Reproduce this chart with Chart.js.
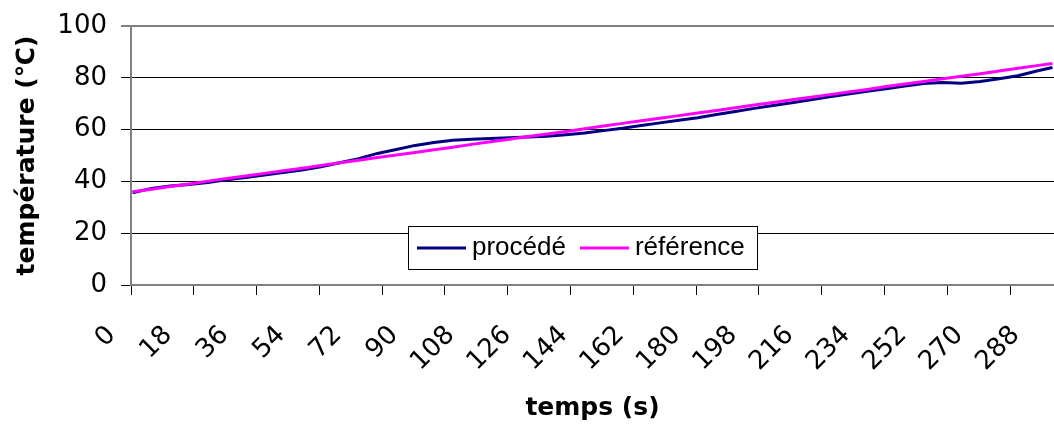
<!DOCTYPE html>
<html><head><meta charset="utf-8">
<script src="https://cdn.jsdelivr.net/npm/chart.js@4.4.1/dist/chart.umd.min.js"></script>
<style>html,body{margin:0;padding:0;background:#fff;overflow:hidden;}</style>
</head><body>
<canvas id="c" width="1054" height="428"></canvas>
<script>
// time (s)
const times = [0,6,12,18,24,30,36,42,48,54,60,66,72,78,84,90,96,102,108,114,120,126,132,138,144,150,156,162,168,174,180,186,192,198,204,210,216,222,228,234,240,246,252,258,264,270,276,282,288,293];
// procédé temperature (°C)
const procede = [35.6,37.3,38.2,38.8,39.6,40.6,41.5,42.5,43.4,44.4,45.6,47.2,48.8,50.8,52.3,53.9,55.0,55.9,56.3,56.6,56.9,57.1,57.4,58.0,58.7,59.6,60.5,61.6,62.6,63.6,64.6,65.8,67.0,68.2,69.3,70.4,71.5,72.7,73.7,74.8,75.8,76.8,77.8,78.2,77.9,78.6,79.6,80.8,82.6,84.0];
// référence temperature (°C)
const reference = [36.0,37.0,38.0,39.0,40.1,41.1,42.1,43.1,44.1,45.1,46.1,47.2,48.2,49.2,50.2,51.2,52.2,53.2,54.3,55.3,56.3,57.3,58.3,59.3,60.3,61.4,62.4,63.4,64.4,65.4,66.4,67.4,68.4,69.5,70.5,71.5,72.5,73.5,74.5,75.5,76.6,77.6,78.6,79.6,80.6,81.6,82.6,83.7,84.7,85.5];
const seriesNames = ['procédé','référence'];
// x axis: 294 one-second categories, labels every 18, tick marks every 20
const xRange = [-0.5, 293.5];
const xTickLabels = [0,18,36,54,72,90,108,126,144,162,180,198,216,234,252,270,288];
const xTickMarks = [-0.5,19.5,39.5,59.5,79.5,99.5,119.5,139.5,159.5,179.5,199.5,219.5,239.5,259.5,279.5];
const yTicks = [0,20,40,60,80,100];

const tickFont = {family:'"DejaVu Sans", sans-serif', size:26};
const titleFont = {family:'"DejaVu Sans", sans-serif', size:25, weight:'bold'};

const boxLegend = {
  id:'boxLegend',
  afterDraw(chart){
    const {ctx, chartArea:a} = chart;
    const x0 = a.left + 277, y0 = a.top + 200, w = 349, h = 43;
    ctx.save();
    ctx.fillStyle = '#fff'; ctx.fillRect(x0, y0, w, h);
    ctx.strokeStyle = '#000'; ctx.lineWidth = 1; ctx.strokeRect(x0 + 0.5, y0 + 0.5, w, h);
    ctx.font = '26px "Liberation Sans", Arial, sans-serif';
    ctx.textBaseline = 'middle'; ctx.textAlign = 'left';
    let x = x0 + 9; const cy = y0 + h / 2 + 0.5;
    chart.data.datasets.forEach(ds => {
      ctx.strokeStyle = ds.borderColor; ctx.lineWidth = 3;
      ctx.beginPath(); ctx.moveTo(x, cy); ctx.lineTo(x + 49, cy); ctx.stroke();
      ctx.fillStyle = '#000'; ctx.fillText(ds.label, x + 55, cy);
      x += 55 + ctx.measureText(ds.label).width + 14;
    });
    ctx.restore();
  }
};

new Chart(document.getElementById('c'), {
  type:'line',
  data:{
    datasets:[
      {label:seriesNames[0], data:times.map((t,i)=>({x:t,y:procede[i]})), borderColor:'#000080', borderWidth:3, pointRadius:0, tension:0, xAxisID:'x', yAxisID:'y', order:2},
      {label:seriesNames[1], data:times.map((t,i)=>({x:t,y:reference[i]})), borderColor:'#FF00FF', borderWidth:3, pointRadius:0, tension:0, xAxisID:'x', yAxisID:'y', order:1}
    ]
  },
  options:{
    responsive:false, animation:false, devicePixelRatio:1,
    layout:{padding:{left:6, top:26, right:0, bottom:0}},
    plugins:{legend:{display:false}, tooltip:{enabled:false}},
    scales:{
      x:{type:'linear', position:'bottom', min:xRange[0], max:xRange[1],
        afterBuildTicks:s=>{ s.ticks = xTickMarks.map(v=>({value:v})); },
        afterFit:s=>{ s.paddingRight = 0; s.paddingLeft = 0; s.height = 10; },
        ticks:{display:false},
        grid:{drawOnChartArea:false, drawTicks:true, tickLength:10, tickColor:'#000', tickWidth:1},
        border:{display:true, color:'#808080', width:2}
      },
      xl:{type:'linear', position:'bottom', min:xRange[0], max:xRange[1],
        afterBuildTicks:s=>{ s.ticks = xTickLabels.map(v=>({value:v})); },
        afterFit:s=>{ s.paddingRight = 0; s.paddingLeft = 0; s.height = 133; },
        grid:{display:false}, border:{display:false},
        ticks:{autoSkip:false, minRotation:45, maxRotation:45, padding:17, labelOffset:-21, font:tickFont, color:'#000', callback:v=>String(v)},
        title:{display:true, text:'temps (s)', font:titleFont, color:'#000', padding:{top:8, bottom:5}}
      },
      y:{min:0, max:100,
        afterBuildTicks:s=>{ s.ticks = yTicks.map(v=>({value:v})); },
        afterFit:s=>{ s.width = 125; s.paddingTop = 0; s.paddingBottom = 0; },
        ticks:{padding:14, font:tickFont, color:'#000'},
        grid:{color:c=> (c.tick && (c.tick.value===100 || c.tick.value===0)) ? '#808080' : '#000',
              lineWidth:c=> (c.tick && c.tick.value===100) ? 2 : 1,
              tickLength:10, tickColor:'#000', tickWidth:1},
        border:{color:'#808080', width:2},
        title:{display:true, text:'température (℃)', font:titleFont, color:'#000', padding:{top:6, bottom:8}}
      }
    }
  },
  plugins:[boxLegend]
});
</script>
</body></html>
